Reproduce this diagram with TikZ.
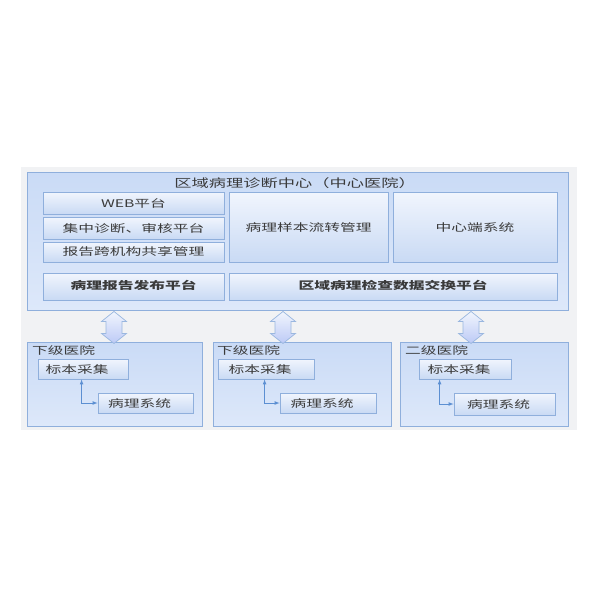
\documentclass[tikz,border=0pt]{standalone}
\usepackage{fontspec}
\newfontfamily\cjk[FakeStretch=1.5]{Noto Sans CJK SC}
\usetikzlibrary{calc}
\definecolor{bggray}{HTML}{F1F2F4}
\definecolor{bordblue}{HTML}{8FAFDC}
\definecolor{outtop}{HTML}{CADBF6}
\definecolor{outbot}{HTML}{DDE8FA}
\definecolor{intop}{HTML}{F1F5FD}
\definecolor{inbot}{HTML}{C9DAF4}
\definecolor{txt}{HTML}{3A3A3A}
\definecolor{linkblue}{HTML}{5C8FD2}
\tikzset{
  outerbox/.style={draw=bordblue, line width=0.9pt, top color=outtop, bottom color=outbot, inner sep=0pt},
  innerbox/.style={draw=bordblue, line width=0.8pt, top color=intop, bottom color=inbot, inner sep=0pt,
     font=\cjk\fontsize{10.5}{12}\selectfont, text=txt},
  sub/.style={innerbox, minimum height=20pt},
  lbl/.style={font=\cjk\fontsize{10.5}{12}\selectfont, text=txt, inner sep=0pt},
  link/.style={draw=linkblue, line width=0.7pt, -latex, shorten >=0pt},
  blockarr/.style={draw=bordblue!90, line width=0.7pt, top color=intop, bottom color=inbot!90!blue!90},
}
\newcommand\blockarrow[1]{%
  \path[blockarr] (#1) -- ++(12.5,10) -- ++(-4.5,0) -- ++(0,12) -- ++(4.5,0) -- ++(-12.5,10)
     -- ++(-12.5,-10) -- ++(4.5,0) -- ++(0,-12) -- ++(-4.5,0) -- cycle;}
\begin{document}
\begin{tikzpicture}[x=1pt,y=-1pt]
\useasboundingbox (0,0) rectangle (600,600);
\fill[white] (0,0) rectangle (600,600);
\node[fill=bggray, minimum width=556pt, minimum height=263pt, inner sep=0pt] (bg) at (299,298.5) {};
% main box
\node[outerbox, minimum width=541pt, minimum height=138pt] (main) at (297.5,241) {};
\node[lbl, font=\cjk\fontsize{11.5}{13}\selectfont] (title) at (295,183) {区域病理诊断中心（中心医院）};
\node[innerbox, minimum width=181pt, minimum height=22pt] (web) at (133.5,203) {WEB平台};
\node[innerbox, minimum width=181pt, minimum height=22pt] (jz) at (133.5,228) {集中诊断、审核平台};
\node[innerbox, minimum width=181pt, minimum height=20pt] (gx) at (133.5,252) {报告跨机构共享管理};
\node[innerbox, minimum width=159pt, minimum height=70pt] (yb) at (308.5,227) {病理样本流转管理};
\node[innerbox, minimum width=164pt, minimum height=70pt] (zx) at (475,227) {中心端系统};
\node[innerbox, minimum width=181pt, minimum height=27pt] (fb) at (133.5,286.5) {\raisebox{3pt}{\bfseries 病理报告发布平台}};
\node[innerbox, minimum width=328pt, minimum height=27pt] (jh) at (393,286.5) {\raisebox{3pt}{\bfseries 区域病理检查数据交换平台}};
% lower hospitals
\node[outerbox, minimum width=175pt, minimum height=84pt] (b1) at (114.5,384) {};
\node[outerbox, minimum width=178pt, minimum height=84pt] (b2) at (302,384) {};
\node[outerbox, minimum width=168pt, minimum height=84pt] (b3) at (484,384) {};
\node[lbl, anchor=west] (l1) at (32,350) {下级医院};
\node[lbl, anchor=west] (l2) at (217,350) {下级医院};
\node[lbl, anchor=west] (l3) at (405,350) {二级医院};
\node[sub, minimum width=90pt] (s1) at (83,369) {标本采集\hspace*{12pt}};
\node[sub, minimum width=96pt] (s2) at (266,369) {标本采集\hspace*{12pt}};
\node[sub, minimum width=92pt] (s3) at (465,369) {标本采集\hspace*{12pt}};
\node[sub, minimum width=95pt] (p1) at (145.5,403) {病理系统\hspace*{12pt}};
\node[sub, minimum width=96pt] (p2) at (328,403) {病理系统\hspace*{12pt}};
\node[sub, minimum width=101pt, minimum height=22pt] (p3) at (504.5,404) {病理系统\hspace*{12pt}};
\draw[link, latex-latex] ($(s1.south west)+(44,0)$) |- (p1.west);
\draw[link, latex-latex] ($(s2.south west)+(47,0)$) |- (p2.west);
\draw[link, latex-latex] ($(s3.south west)+(21,0)$) |- (p3.west);
% block arrows
\coordinate (a1) at ($(main.south)!0!(main.south) + (-183.5,1)$);
\coordinate (a2) at ($(main.south) + (-14.5,1)$);
\coordinate (a3) at ($(main.south) + (173.5,1)$);
\blockarrow{a1}
\blockarrow{a2}
\blockarrow{a3}
\end{tikzpicture}
\end{document}
